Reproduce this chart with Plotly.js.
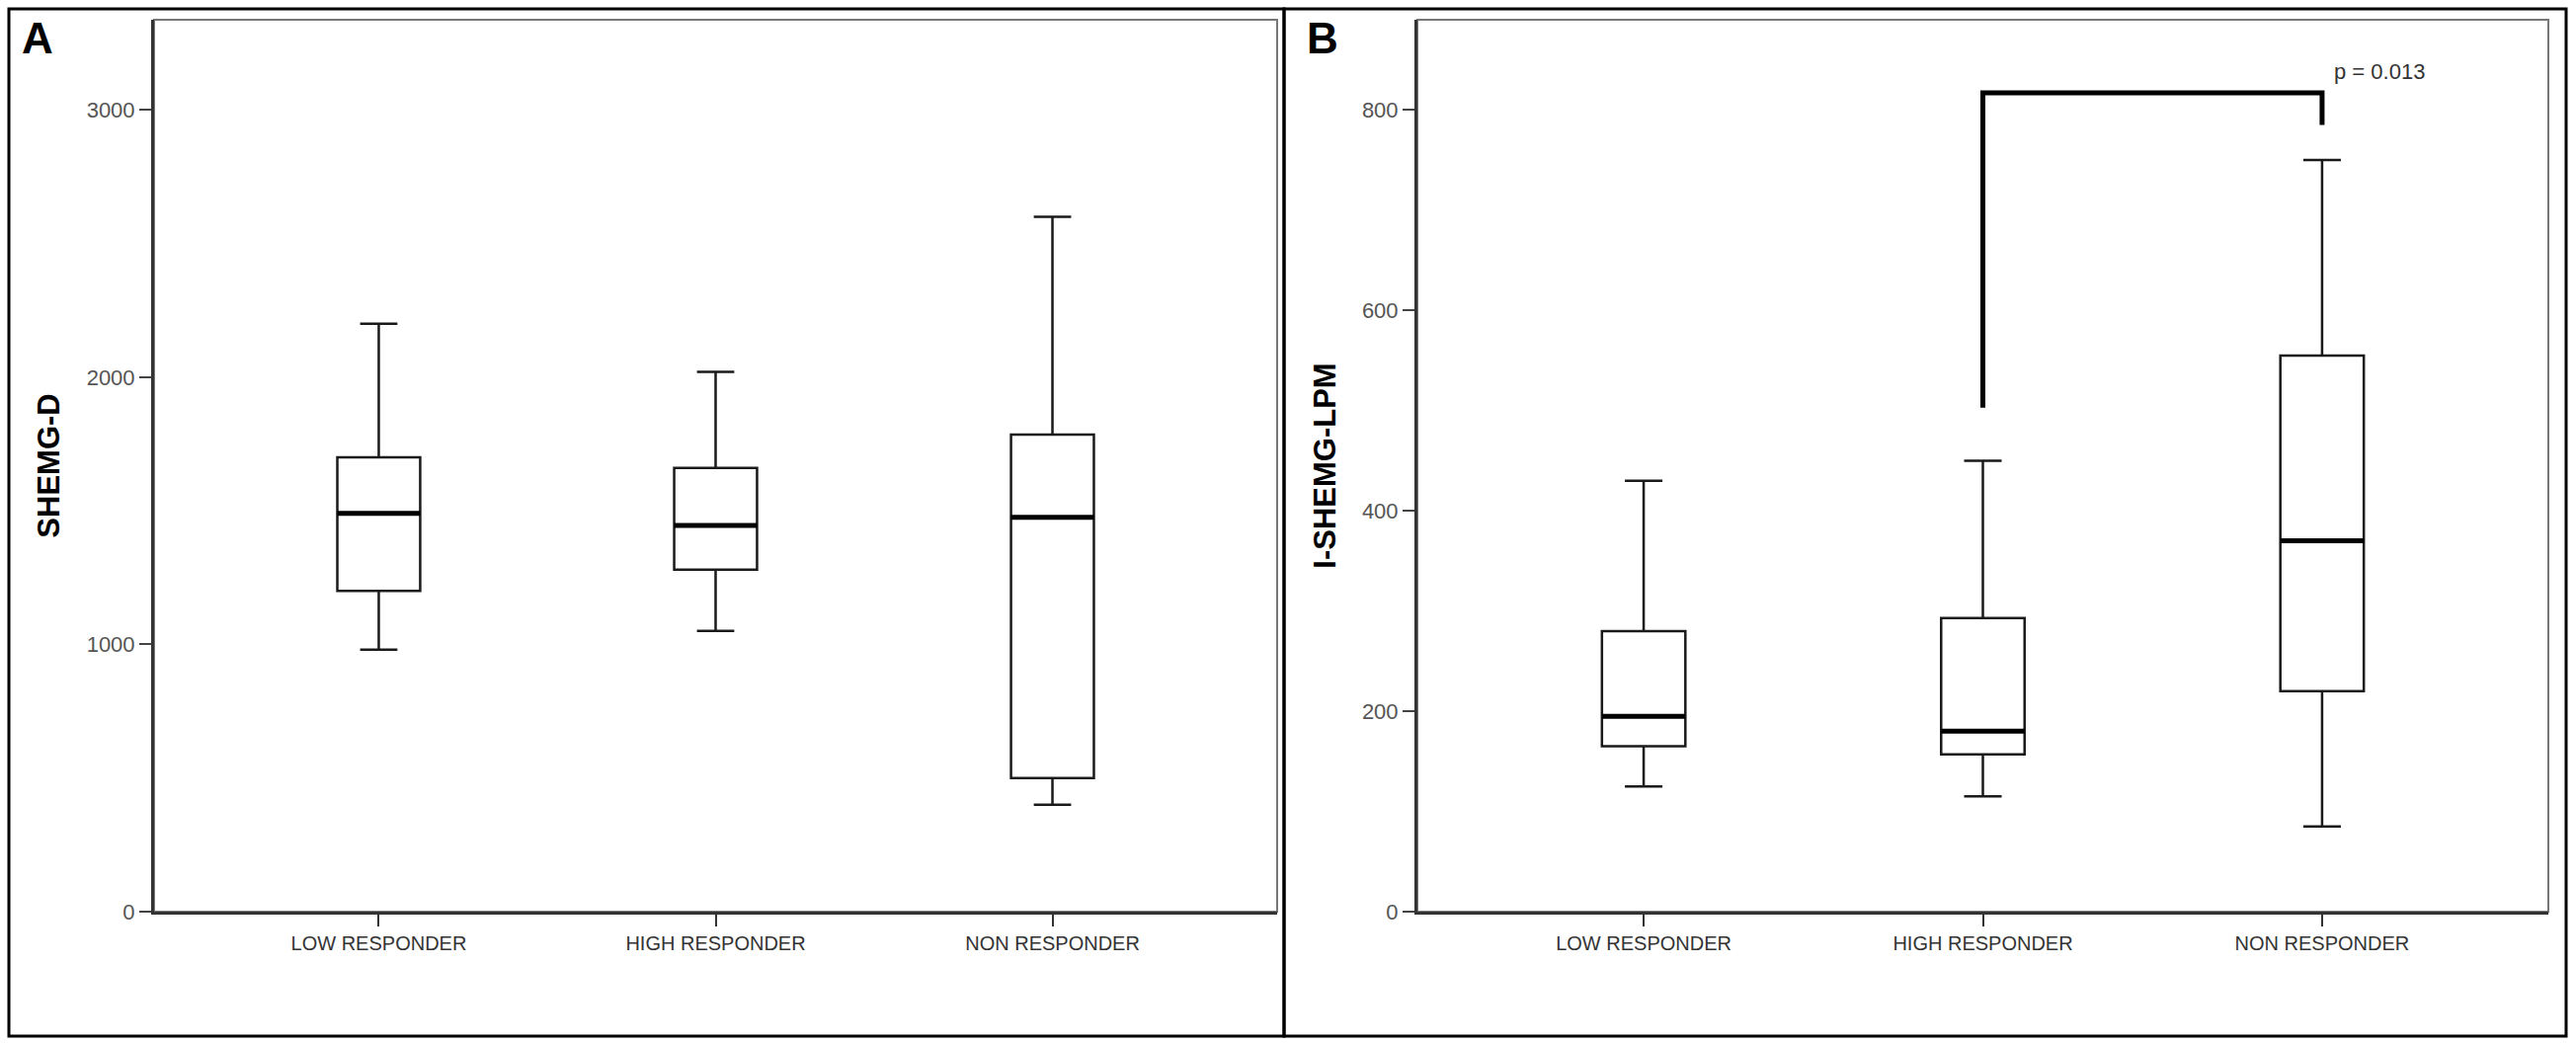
<!DOCTYPE html>
<html>
<head>
<meta charset="utf-8">
<script src="https://cdn.plot.ly/plotly-3.0.1.min.js"></script>
<style>html,body{margin:0;padding:0;background:#fff;}#chart{width:2608px;height:1058px;}</style>
</head>
<body>
<div id="chart"></div>
<script>
// ---- data ----
const categories = ['LOW RESPONDER', 'HIGH RESPONDER', 'NON RESPONDER'];

// Panel A: SHEMG-D
const shemgD_lower  = [980, 1050, 400];
const shemgD_q1     = [1200, 1280, 500];
const shemgD_median = [1490, 1445, 1475];
const shemgD_q3     = [1700, 1660, 1785];
const shemgD_upper  = [2200, 2020, 2600];

// Panel B: I-SHEMG-LPM
const lpm_lower  = [125, 115, 85];
const lpm_q1     = [165, 157, 220];
const lpm_median = [195, 180, 370];
const lpm_q3     = [280, 293, 555];
const lpm_upper  = [430, 450, 750];

// significance bracket (panel B)
const bracketCats = ['HIGH RESPONDER', 'HIGH RESPONDER', 'NON RESPONDER', 'NON RESPONDER'];
const bracketY = [503, 817, 817, 785];
const pLabel = 'p = 0.013';
const pLabelCat = 'NON RESPONDER';
const pLabelY = 838;

const titleA = 'SHEMG-D';
const titleB = 'I-SHEMG-LPM';

// ---- styles ----
const BOXW = 0.246;
function boxTrace(lower, q1, med, q3, upper, xa, ya) {
  return {
    type: 'box', x: categories, q1: q1, median: med, q3: q3,
    lowerfence: lower, upperfence: upper,
    xaxis: xa, yaxis: ya, width: BOXW, whiskerwidth: 0.45,
    line: {color: '#1a1a1a', width: 2.5}, fillcolor: '#ffffff',
    boxpoints: false, showlegend: false, hoverinfo: 'skip'
  };
}
function medianTrace(med, xa, ya) {
  return {
    type: 'box', x: categories, q1: med, median: med, q3: med,
    lowerfence: med, upperfence: med,
    xaxis: xa, yaxis: ya, width: BOXW, whiskerwidth: 0,
    line: {color: '#000', width: 5}, fillcolor: 'rgba(0,0,0,0)',
    boxpoints: false, showlegend: false, hoverinfo: 'skip'
  };
}

const data = [
  boxTrace(shemgD_lower, shemgD_q1, shemgD_median, shemgD_q3, shemgD_upper, 'x', 'y'),
  medianTrace(shemgD_median, 'x', 'y'),
  boxTrace(lpm_lower, lpm_q1, lpm_median, lpm_q3, lpm_upper, 'x2', 'y2'),
  medianTrace(lpm_median, 'x2', 'y2'),
  {
    type: 'scatter', mode: 'lines', x: bracketCats, y: bracketY,
    xaxis: 'x2', yaxis: 'y2', line: {color: '#000', width: 5},
    showlegend: false, hoverinfo: 'skip'
  }
];

const W = 2608, H = 1058;
const px = v => v / W;
const py = v => 1 - v / H;

const xTickFont = {family: '"Liberation Sans", Arial, sans-serif', size: 20, color: '#333'};
const yTickFont = {family: '"Liberation Sans", Arial, sans-serif', size: 22, color: '#555'};

function xAxis(domain, anchor) {
  return {
    domain: domain, anchor: anchor, type: 'category', range: [-0.667, 2.667],
    showgrid: false, zeroline: false, showline: true, linecolor: '#333', linewidth: 3,
    ticks: 'outside', ticklen: 12, tickwidth: 2, tickcolor: '#333',
    tickfont: xTickFont, fixedrange: true, automargin: false
  };
}
function yAxis(domain, anchor, range, dtick, title, standoff) {
  return {
    domain: domain, anchor: anchor, range: range, dtick: dtick, tick0: 0,
    showgrid: false, zeroline: false, showline: true, linecolor: '#333', linewidth: 3,
    ticks: 'outside', ticklen: 12, tickwidth: 2, tickcolor: '#444',
    tickfont: yTickFont, fixedrange: true, automargin: false,
    title: {text: '<b>' + title + '</b>', standoff: standoff,
            font: {family: '"Liberation Sans", Arial, sans-serif', size: 31, color: '#000'}}
  };
}

const yDom = [py(923), py(20)];
const layout = {
  width: W, height: H,
  margin: {l: 0, r: 0, t: 0, b: 0, pad: 0},
  paper_bgcolor: '#fff', plot_bgcolor: '#fff',
  showlegend: false, boxmode: 'overlay',
  xaxis: xAxis([px(156), px(1293)], 'y'),
  yaxis: yAxis(yDom, 'x', [0, 3337], 1000, titleA, 18),
  xaxis2: xAxis([px(1435), px(2580)], 'y2'),
  yaxis2: yAxis(yDom, 'x2', [0, 890], 200, titleB, 18),
  shapes: [
    {type: 'rect', xref: 'x domain', yref: 'y domain', x0: 0, x1: 1, y0: 0, y1: 1, line: {color: '#777', width: 2}, layer: 'below'},
    {type: 'rect', xref: 'x2 domain', yref: 'y2 domain', x0: 0, x1: 1, y0: 0, y1: 1, line: {color: '#777', width: 2}, layer: 'below'},
    {type: 'rect', xref: 'paper', yref: 'paper', x0: px(9), x1: px(1300), y0: py(1049), y1: py(9), line: {color: '#000', width: 3}},
    {type: 'rect', xref: 'paper', yref: 'paper', x0: px(1300), x1: px(2598), y0: py(1049), y1: py(9), line: {color: '#000', width: 3}}
  ],
  annotations: [
    {text: '<b>A</b>', xref: 'paper', yref: 'paper', x: px(20), y: py(12), xanchor: 'left', yanchor: 'top', showarrow: false,
     font: {family: '"Liberation Sans", Arial, sans-serif', size: 44, color: '#000'}},
    {text: '<b>B</b>', xref: 'paper', yref: 'paper', x: px(1321), y: py(12), xanchor: 'left', yanchor: 'top', showarrow: false,
     font: {family: '"Liberation Sans", Arial, sans-serif', size: 44, color: '#000'}},
    {text: pLabel, xref: 'x2', yref: 'y2', x: pLabelCat, y: pLabelY, xanchor: 'left', yanchor: 'middle', xshift: 10, showarrow: false,
     font: {family: '"Liberation Sans", Arial, sans-serif', size: 22, color: '#333'}}
  ]
};

Plotly.newPlot('chart', data, layout, {staticPlot: true, displayModeBar: false});
</script>
</body>
</html>
